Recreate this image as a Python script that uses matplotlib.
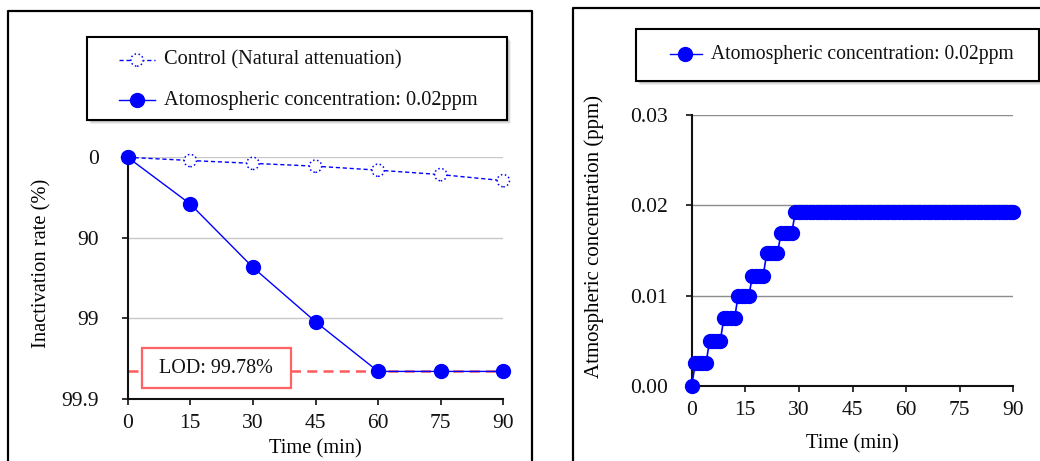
import matplotlib
matplotlib.use("Agg")
import matplotlib.pyplot as plt
from matplotlib.patches import Rectangle
import numpy as np

plt.rcParams["font.family"] = ["Liberation Serif", "DejaVu Serif"]

# left panel: inactivation rate (%)
time_pts = [0, 15, 30, 45, 60, 75, 90]
control = [0, 8.8, 15.9, 22.4, 30.8, 39.0, 48.7]
treated = [0, 73.7, 95.7, 99.09, 99.78, 99.78, 99.78]
lod = 99.78
y_ticks = [0, 90, 99, 99.9]
y_tick_labels = ["0", "90", "99", "99.9"]
x_ticks = [0, 15, 30, 45, 60, 75, 90]

# right panel: atmospheric concentration (ppm), one reading per minute
conc_time = list(range(0, 91))
conc = ([0.0] + [0.0025] * 4 + [0.005] * 4 + [0.0075] * 4 + [0.01] * 4
        + [0.0122] * 4 + [0.0147] * 4 + [0.0169] * 4 + [0.0193] * 62)
conc_ticks = [0.0, 0.01, 0.02, 0.03]

W, H = 1040, 461
BLUE = "#0000ff"
TICK_FS = 15.5
LABEL_FS = 14.8


def lr(p):
    p = np.asarray(p, dtype=float)
    return -np.log10(np.clip(1 - p / 100.0, 1e-9, None))


def lr_inv(v):
    return 100.0 * (1 - 10.0 ** (-np.asarray(v, dtype=float)))


def ax_rect(x0, y0, x1, y1):
    return [x0 / W, 1 - y1 / H, (x1 - x0) / W, (y1 - y0) / H]


def style_axes(ax):
    for s in ["top", "right"]:
        ax.spines[s].set_visible(False)
    for s in ["left", "bottom"]:
        ax.spines[s].set_linewidth(1.5)
        ax.spines[s].set_color("#111111")
    ax.tick_params(axis="both", direction="out", length=4, width=1.2,
                   labelsize=TICK_FS, colors="#111111")
    ax.tick_params(axis="x", pad=7)


fig = plt.figure(figsize=(W / 100, H / 100), dpi=100)

# ---- left chart
ax1 = fig.add_axes(ax_rect(127.7, 157.3, 503.3, 399))
ax1.set_yscale("function", functions=(lr, lr_inv))
ax1.set_xlim(0, 90)
ax1.set_ylim(99.9, 0)
ax1.set_yticks(y_ticks)
ax1.set_yticklabels(y_tick_labels)
ax1.set_xticks(x_ticks)
style_axes(ax1)
ax1.tick_params(axis="y", pad=17)
ax1.grid(axis="y", color="#c8c8c8", lw=1)
ax1.set_axisbelow(True)
ax1.axhline(lod, color="#ff5a5a", lw=1.8, ls=(0, (4, 2.5)), zorder=2)
ax1.plot(time_pts, control, color=BLUE, lw=1, ls=(0, (3, 2)), zorder=3, clip_on=False)
ax1.scatter(time_pts, control, s=78, facecolors="white", edgecolors=BLUE,
            linewidths=1.1, linestyles=":", zorder=4, clip_on=False)
ax1.plot(time_pts, treated, color=BLUE, lw=1, marker="o", ms=10, mfc=BLUE,
         mec=BLUE, zorder=5, clip_on=False)
ax1.set_xlabel("Time (min)", fontsize=LABEL_FS)
ax1.set_ylabel("Inactivation rate (%)", fontsize=LABEL_FS)
ax1.xaxis.set_label_coords(0.5, -0.168)
ax1.yaxis.set_label_coords(-0.203, 0.563)

# ---- right chart
ax2 = fig.add_axes(ax_rect(691.7, 115, 1013.3, 386))
ax2.set_xlim(0, 90)
ax2.set_ylim(0, 0.03)
ax2.set_xticks(x_ticks)
ax2.set_yticks(conc_ticks)
ax2.set_yticklabels([f"{v:.2f}" for v in conc_ticks])
style_axes(ax2)
ax2.tick_params(axis="y", pad=13)
ax2.grid(axis="y", color="#8c8c8c", lw=1)
ax2.set_axisbelow(True)
ax2.plot(conc_time, conc, color=BLUE, lw=1.2, marker="o", ms=10, mfc=BLUE,
         mec=BLUE, zorder=5, clip_on=False)
ax2.set_xlabel("Time (min)", fontsize=LABEL_FS)
ax2.set_ylabel("Atmospheric concentration (ppm)", fontsize=15)
ax2.xaxis.set_label_coords(0.5, -0.179)
ax2.yaxis.set_label_coords(-0.273, 0.553)

# ---- overlay in pixel coordinates for frames, legends, LOD box
ov = fig.add_axes([0, 0, 1, 1], facecolor="none")
ov.set_xlim(0, W)
ov.set_ylim(H, 0)
ov.axis("off")

# panel frames
ov.plot([8, 8, 532, 532], [H + 5, 11, 11, H + 5], color="black", lw=1.6)
ov.plot([573, 573, W + 5], [H + 5, 8, 8], color="black", lw=1.6)


def legend_box(x0, y0, x1, y1):
    for off, a in [(4, 0.12), (3, 0.18), (2, 0.25)]:
        ov.add_patch(Rectangle((x0 + off, y0 + off), x1 - x0, y1 - y0,
                               fc="#808080", ec="none", alpha=a, zorder=1))
    ov.add_patch(Rectangle((x0, y0), x1 - x0, y1 - y0, fc="white",
                           ec="black", lw=1.5, zorder=2))


legend_box(87, 37, 507, 120)
ov.plot([119, 155], [60, 60], color=BLUE, lw=1, ls=(0, (3, 2)), zorder=3)
ov.scatter([137], [60], s=78, facecolors="white", edgecolors=BLUE,
           linewidths=1.1, linestyles=":", zorder=4)
ov.text(164, 60, "Control (Natural attenuation)", fontsize=14.7, va="center",
        ha="left", color="#111111", zorder=4)
ov.plot([119, 155], [100, 100], color=BLUE, lw=1, zorder=3)
ov.plot([137], [100], marker="o", ms=10, color=BLUE, zorder=4)
ov.text(164, 100, "Atomospheric concentration: 0.02ppm", fontsize=14.7,
        va="center", ha="left", color="#111111", zorder=4)

legend_box(636, 29, 1039, 81)
ov.plot([670, 702], [54, 54], color=BLUE, lw=1, zorder=3)
ov.plot([685], [54], marker="o", ms=10, color=BLUE, zorder=4)
ov.text(711, 54, "Atomospheric concentration: 0.02ppm", fontsize=14.1,
        va="center", ha="left", color="#111111", zorder=4)

# LOD label box
ov.add_patch(Rectangle((141.7, 348), 149, 40, fc="white", ec="#ff6464",
                       lw=1.6, zorder=3))
ov.text(216, 368.5, "LOD: 99.78%", fontsize=14.5, ha="center", va="center",
        color="#111111", zorder=4)

fig.savefig("out.png", dpi=100)
